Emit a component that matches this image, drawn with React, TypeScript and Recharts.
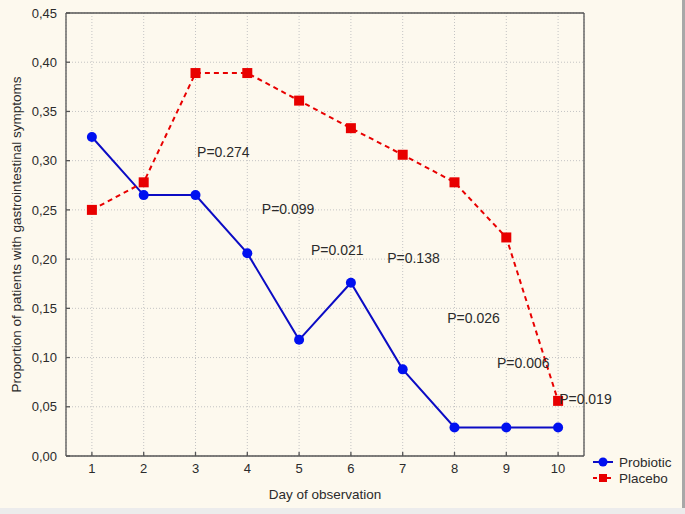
import React from 'react';
import {
  LineChart, Line, XAxis, YAxis, CartesianGrid, ReferenceDot, Legend,
} from 'recharts';

const days = [1, 2, 3, 4, 5, 6, 7, 8, 9, 10];
const probiotic = [0.324, 0.265, 0.265, 0.206, 0.118, 0.176, 0.088, 0.029, 0.029, 0.029];
const placebo = [0.25, 0.278, 0.389, 0.389, 0.361, 0.333, 0.306, 0.278, 0.222, 0.056];
const yTicks = [0, 0.05, 0.1, 0.15, 0.2, 0.25, 0.3, 0.35, 0.4, 0.45];

const pLabels = ['P=0.274', 'P=0.099', 'P=0.021', 'P=0.138', 'P=0.026', 'P=0.006', 'P=0.019'];
const pLabelX = [3.03, 4.28, 5.23, 6.70, 7.86, 8.82, 10.02];
const pLabelY = [0.309, 0.251, 0.209, 0.201, 0.140, 0.0945, 0.058];

const data = days.map((d, i) => ({ day: d, probiotic: probiotic[i], placebo: placebo[i] }));

const FONT = '"Liberation Sans", Arial, sans-serif';
const BLUE_LINE = '#0c0cc4';
const BLUE_DOT = '#0010f0';
const RED = '#e80000';
const TEXT = '#2b2b2b';
const AXIS = '#555555';

const SquareDot = (props: any) => {
  const { cx, cy } = props;
  if (cx == null || cy == null) return null;
  return <rect x={cx - 5} y={cy - 5} width={10} height={10} fill={RED} />;
};

const LegendContent = () => (
  <svg width={95} height={36} style={{ display: 'block' }}>
    <line x1={3} x2={23} y1={8} y2={8} stroke={BLUE_LINE} strokeWidth={2} />
    <circle cx={13} cy={8} r={4.5} fill={BLUE_DOT} />
    <text x={29} y={8} dominantBaseline="central" fontSize={13.5} fontFamily={FONT} fill={TEXT}>Probiotic</text>
    <line x1={3} x2={23} y1={24} y2={24} stroke={RED} strokeWidth={2} strokeDasharray="4 3" />
    <rect x={9} y={20} width={8} height={8} fill={RED} />
    <text x={29} y={24} dominantBaseline="central" fontSize={13.5} fontFamily={FONT} fill={TEXT}>Placebo</text>
  </svg>
);

const YTitle = (props: any) => {
  const vb = props.viewBox || {};
  const x = vb.x + 16;
  const y = vb.y + vb.height / 2;
  return (
    <text x={x} y={y} transform={`rotate(-90 ${x} ${y})`} textAnchor="middle" dominantBaseline="central"
      fontSize={13.5} fontFamily={FONT} fill={TEXT}>
      Proportion of patients with gastrointestinal symptoms
    </text>
  );
};

const XTitle = (props: any) => {
  const vb = props.viewBox || {};
  const x = vb.x + vb.width / 2;
  const y = vb.y + 38;
  return (
    <text x={x} y={y} textAnchor="middle" dominantBaseline="central" fontSize={13.5} fontFamily={FONT} fill={TEXT}>
      Day of observation
    </text>
  );
};

export default function App() {
  return (
    <div style={{ position: 'absolute', left: 0, top: 0, width: 685, height: 514, background: '#fdf9ee', overflow: 'hidden' }}>
      <LineChart width={685} height={514} data={data} margin={{ top: 0, right: 0, bottom: 0, left: 0 }}>
        <CartesianGrid stroke="#c4c4c4" strokeDasharray="1 2" />
        <XAxis dataKey="day" type="number" domain={[0.5, 10.5]} ticks={days} height={58}
          tickSize={-4} tickMargin={12} stroke={AXIS} strokeWidth={1.3}
          tick={{ fill: TEXT, fontSize: 13, fontFamily: FONT }} label={<XTitle />} />
        <XAxis xAxisId="top" orientation="top" dataKey="day" type="number" domain={[0.5, 10.5]} ticks={days}
          height={13} tick={false} tickSize={-4} stroke={AXIS} strokeWidth={1.3} />
        <YAxis type="number" domain={[0, 0.45]} ticks={yTicks} width={66} tickSize={-4} tickMargin={13}
          stroke={AXIS} strokeWidth={1.3} tickFormatter={(v: number) => v.toFixed(2).replace('.', ',')}
          tick={{ fill: TEXT, fontSize: 13, fontFamily: FONT }} label={<YTitle />} />
        <YAxis yAxisId="right" orientation="right" type="number" domain={[0, 0.45]} ticks={yTicks} width={101}
          tick={false} tickSize={-4} stroke={AXIS} strokeWidth={1.3} />
        <Line dataKey="probiotic" stroke={BLUE_LINE} strokeWidth={2} isAnimationActive={false}
          dot={{ r: 5, fill: BLUE_DOT, stroke: BLUE_DOT, strokeWidth: 0 }} />
        <Line dataKey="placebo" stroke={RED} strokeWidth={2} strokeDasharray="5 4" isAnimationActive={false}
          dot={<SquareDot />} />
        {pLabels.map((t, i) => (
          <ReferenceDot key={t} x={pLabelX[i]} y={pLabelY[i]} r={0} fill="none" stroke="none"
            label={{ value: t, position: 'right', offset: 0, fontSize: 14, fontFamily: FONT, fill: TEXT }} />
        ))}
        <Legend layout="horizontal" verticalAlign="middle" content={<LegendContent />}
          wrapperStyle={{ left: 590, top: 454, width: 95, height: 36 }} />
      </LineChart>
      <div style={{ position: 'absolute', left: 0, top: 508, width: 685, height: 6, background: '#ececec' }} />
      <div style={{ position: 'absolute', left: 682, top: 0, width: 3, height: 508, background: '#a8a8a8' }} />
    </div>
  );
}
